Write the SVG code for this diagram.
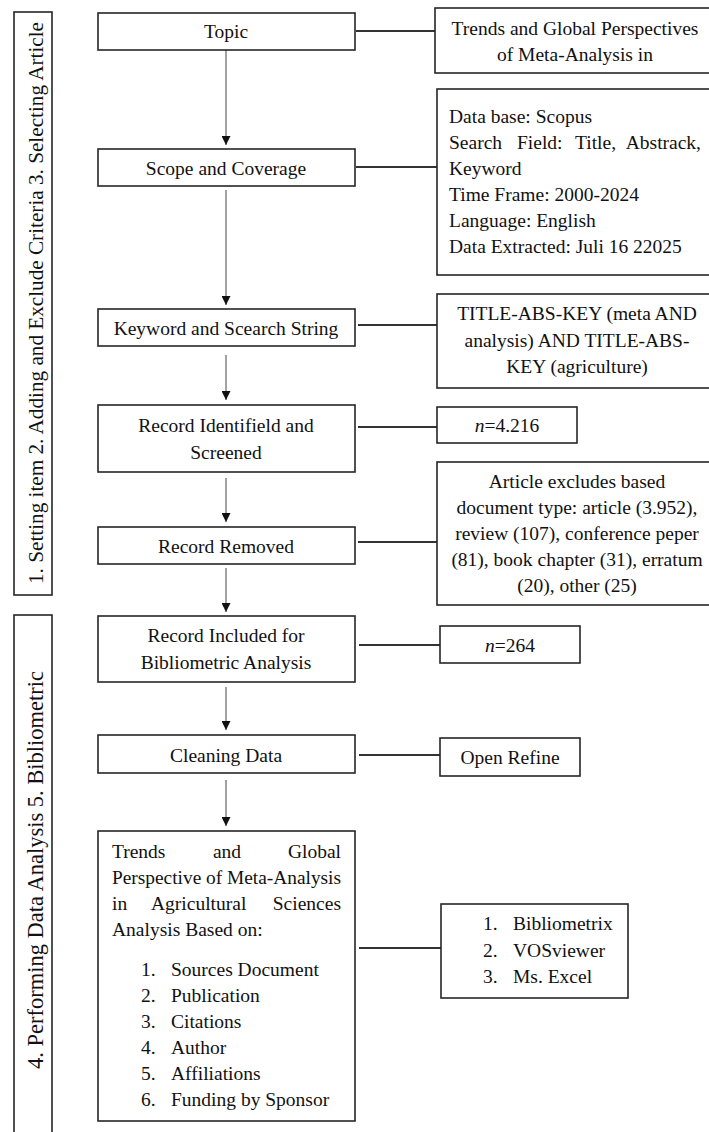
<svg xmlns="http://www.w3.org/2000/svg" width="709" height="1132" viewBox="0 0 709 1132">
<defs>
<style>
.box{fill:#fff;stroke:#262626;stroke-width:1.6}
.t{font-family:"Liberation Serif","Times New Roman",serif;font-size:19.5px;fill:#111}
.v{font-family:"Liberation Serif","Times New Roman",serif;fill:#111;text-anchor:middle}
.c{text-anchor:middle}
.e{text-anchor:end}
.link{stroke:#333;stroke-width:2;fill:none}
.flow{stroke:#555;stroke-width:1.1;fill:none}
</style>
<marker id="ah" markerUnits="userSpaceOnUse" markerWidth="9" markerHeight="9" refX="9" refY="4.5" orient="auto">
<path d="M0,0 L9,4.5 L0,9 z" fill="#111"/>
</marker>
</defs>
<rect width="709" height="1132" fill="#fff"/>

<g id="phase1">
<rect class="box" x="14" y="12" width="38" height="583"/>
<text class="v" font-size="21.2" transform="translate(42.5,303) rotate(-90)">1. Setting item 2. Adding and Exclude Criteria 3. Selecting Article</text>
</g>
<g id="phase2">
<rect class="box" x="14" y="615" width="38" height="540"/>
<text class="v" font-size="22.5" transform="translate(43,870) rotate(-90)">4. Performing Data Analysis 5. Bibliometric</text>
</g>

<g id="connectors">
<line class="flow" x1="226" y1="50" x2="226" y2="145" marker-end="url(#ah)"/>
<line class="flow" x1="226" y1="190" x2="226" y2="305" marker-end="url(#ah)"/>
<line class="flow" x1="226" y1="355" x2="226" y2="400" marker-end="url(#ah)"/>
<line class="flow" x1="226" y1="478" x2="226" y2="522" marker-end="url(#ah)"/>
<line class="flow" x1="226" y1="568" x2="226" y2="612" marker-end="url(#ah)"/>
<line class="flow" x1="226" y1="687" x2="226" y2="730" marker-end="url(#ah)"/>
<line class="flow" x1="226" y1="780" x2="226" y2="826" marker-end="url(#ah)"/>
<line class="link" x1="356" y1="31" x2="435" y2="31"/>
<line class="link" x1="356" y1="167" x2="437" y2="167"/>
<line class="link" x1="358" y1="325" x2="437" y2="325"/>
<line class="link" x1="358" y1="427" x2="437" y2="427"/>
<line class="link" x1="358" y1="542" x2="437" y2="542"/>
<line class="link" x1="359" y1="645" x2="440" y2="645"/>
<line class="link" x1="359" y1="755" x2="440" y2="755"/>
<line class="link" x1="359" y1="948" x2="441" y2="948"/>
</g>

<g id="topic">
<rect class="box" x="98" y="13" width="257" height="37"/>
<text class="t c" x="226" y="38">Topic</text>
</g>
<g id="topic-detail">
<rect class="box" x="435" y="8" width="300" height="65"/>
<text class="t c" x="575" y="35">Trends and Global Perspectives</text>
<text class="t c" x="575" y="61">of Meta-Analysis in</text>
</g>

<g id="scope">
<rect class="box" x="98" y="149" width="257" height="37"/>
<text class="t c" x="226" y="175">Scope and Coverage</text>
</g>
<g id="scope-detail">
<rect class="box" x="437" y="89" width="300" height="186"/>
<text class="t" x="449" y="123">Data base: Scopus</text>
<text class="t" x="449" y="149">Search</text>
<text class="t" x="517" y="149">Field:</text>
<text class="t" x="575" y="149">Title,</text>
<text class="t e" x="701" y="149">Abstrack,</text>
<text class="t" x="449" y="175">Keyword</text>
<text class="t" x="449" y="201">Time Frame: 2000-2024</text>
<text class="t" x="449" y="227">Language: English</text>
<text class="t" x="449" y="253">Data Extracted: Juli 16 22025</text>
</g>

<g id="keyword">
<rect class="box" x="98" y="309" width="257" height="37"/>
<text class="t c" x="226" y="335">Keyword and Scearch String</text>
</g>
<g id="keyword-detail">
<rect class="box" x="437" y="294" width="300" height="94"/>
<text class="t c" x="577" y="320">TITLE-ABS-KEY (meta AND</text>
<text class="t c" x="577" y="347">analysis) AND TITLE-ABS-</text>
<text class="t c" x="577" y="373">KEY (agriculture)</text>
</g>

<g id="identified">
<rect class="box" x="98" y="405" width="257" height="67"/>
<text class="t c" x="226" y="432">Record Identifield and</text>
<text class="t c" x="226" y="459">Screened</text>
</g>
<g id="identified-n">
<rect class="box" x="437" y="407" width="140" height="36"/>
<text class="t c" x="507" y="432"><tspan font-style="italic">n</tspan>=4.216</text>
</g>

<g id="removed">
<rect class="box" x="98" y="527" width="257" height="37"/>
<text class="t c" x="226" y="553">Record Removed</text>
</g>
<g id="removed-detail">
<rect class="box" x="437" y="462" width="300" height="143"/>
<text class="t c" x="577" y="488">Article excludes based</text>
<text class="t c" x="577" y="514">document type: article (3.952),</text>
<text class="t c" x="577" y="540">review (107), conference peper</text>
<text class="t c" x="577" y="566">(81), book chapter (31), erratum</text>
<text class="t c" x="577" y="592">(20), other (25)</text>
</g>

<g id="included">
<rect class="box" x="98" y="616" width="257" height="66"/>
<text class="t c" x="226" y="642">Record Included for</text>
<text class="t c" x="226" y="669">Bibliometric Analysis</text>
</g>
<g id="included-n">
<rect class="box" x="440" y="626" width="140" height="37"/>
<text class="t c" x="510" y="652"><tspan font-style="italic">n</tspan>=264</text>
</g>

<g id="cleaning">
<rect class="box" x="98" y="735" width="257" height="38"/>
<text class="t c" x="226" y="762">Cleaning Data</text>
</g>
<g id="cleaning-tool">
<rect class="box" x="440" y="738" width="140" height="38"/>
<text class="t c" x="510" y="764">Open Refine</text>
</g>

<g id="analysis">
<rect class="box" x="98" y="831" width="257" height="290"/>
<text class="t" x="112" y="858">Trends</text>
<text class="t c" x="227" y="858">and</text>
<text class="t e" x="341" y="858">Global</text>
<text class="t" x="112" y="884" textLength="229" lengthAdjust="spacingAndGlyphs">Perspective of Meta-Analysis</text>
<text class="t" x="112" y="910">in</text>
<text class="t" x="151" y="910">Agricultural</text>
<text class="t e" x="341" y="910">Sciences</text>
<text class="t" x="112" y="936">Analysis Based on:</text>
<text class="t" x="141" y="976">1.</text><text class="t" x="171" y="976">Sources Document</text>
<text class="t" x="141" y="1002">2.</text><text class="t" x="171" y="1002">Publication</text>
<text class="t" x="141" y="1028">3.</text><text class="t" x="171" y="1028">Citations</text>
<text class="t" x="141" y="1054">4.</text><text class="t" x="171" y="1054">Author</text>
<text class="t" x="141" y="1080">5.</text><text class="t" x="171" y="1080">Affiliations</text>
<text class="t" x="141" y="1106">6.</text><text class="t" x="171" y="1106">Funding by Sponsor</text>
</g>
<g id="tools">
<rect class="box" x="441" y="904" width="187" height="94"/>
<text class="t" x="483" y="930">1.</text><text class="t" x="513" y="930">Bibliometrix</text>
<text class="t" x="483" y="957">2.</text><text class="t" x="513" y="957">VOSviewer</text>
<text class="t" x="483" y="983">3.</text><text class="t" x="513" y="983">Ms. Excel</text>
</g>
</svg>
